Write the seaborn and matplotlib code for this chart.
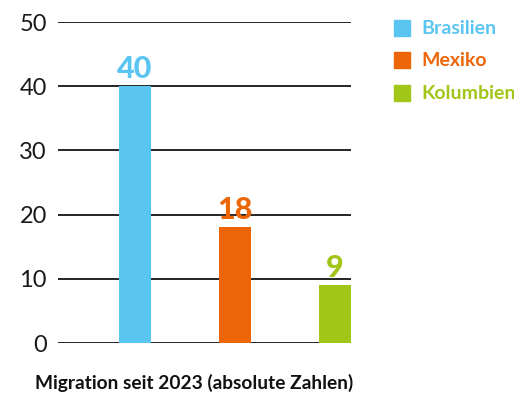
import pandas as pd
import matplotlib.pyplot as plt
import seaborn as sns

# Data
laender = ["Brasilien", "Mexiko", "Kolumbien"]
migration = [40, 18, 9]
farben = ["#5BC5F2", "#EC6608", "#A2C617"]
y_ticks = [0, 10, 20, 30, 40, 50]
titel = "Migration seit 2023 (absolute Zahlen)"

df = pd.DataFrame({"Land": laender, "Migration": migration})

sns.set_theme(style="white")
plt.rcParams['font.family'] = ['Lato', 'DejaVu Sans']

fig = plt.figure(figsize=(5.14, 4.01), dpi=100)
ax = fig.add_axes([0.1128, 0.1446, 0.5702, 0.8004])

# Gridlines behind bars
for t in y_ticks:
    ax.axhline(t, color="black", lw=1.2, zorder=0)

sns.barplot(data=df, x="Land", y="Migration", hue="Land", palette=farben,
            width=0.32, dodge=False, legend=False, saturation=1, linewidth=0,
            ax=ax, zorder=2)

# Value labels
for i, (v, c) in enumerate(zip(migration, farben)):
    ax.text(i, v + 0.5, str(v), ha="center", va="bottom", color=c,
            fontsize=22, fontweight="black")

ax.set_xlim(-0.77, 2.16)
ax.set_ylim(0, 50)
ax.set_yticks(y_ticks)
ax.set_yticklabels([str(t) for t in y_ticks], fontsize=17, fontweight="normal", color="#1a1a1a")
ax.tick_params(axis="y", length=0, pad=8)
ax.set_xticks([])
ax.set_xlabel("")
ax.set_ylabel("")
for s in ax.spines.values():
    s.set_visible(False)

# Legend
for k, (name, c) in enumerate(zip(laender, farben)):
    y = 0.93 - k * 0.081
    fig.patches.append(plt.Rectangle((394 / 514, y - 0.019), 16 / 514, 16 / 401,
                                     transform=fig.transFigure, color=c, figure=fig))
    fig.text(421 / 514, y, name, color=c, fontsize=14, fontweight="bold", va="center")

fig.text(35 / 514, 1 - 383 / 401, titel, fontsize=13.8, fontweight="bold",
         color="#111111", va="center")

fig.savefig("out.png", dpi=100)
